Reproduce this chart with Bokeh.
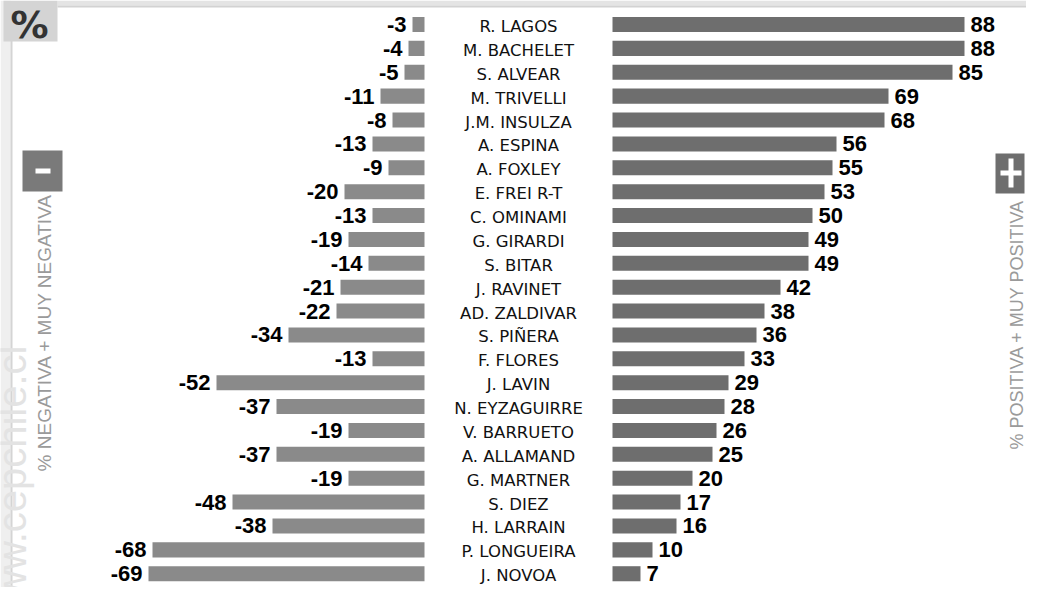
import math
from bokeh.plotting import figure
from bokeh.models import ColumnDataSource, Range1d
from bokeh.core.properties import value
from bokeh.embed import file_html
from bokeh.resources import INLINE

names = ["R. LAGOS", "M. BACHELET", "S. ALVEAR", "M. TRIVELLI", "J.M. INSULZA",
         "A. ESPINA", "A. FOXLEY", "E. FREI R-T", "C. OMINAMI", "G. GIRARDI",
         "S. BITAR", "J. RAVINET", "AD. ZALDIVAR", "S. PIÑERA", "F. FLORES",
         "J. LAVIN", "N. EYZAGUIRRE", "V. BARRUETO", "A. ALLAMAND", "G. MARTNER",
         "S. DIEZ", "H. LARRAIN", "P. LONGUEIRA", "J. NOVOA"]
negative = [-3, -4, -5, -11, -8, -13, -9, -20, -13, -19, -14, -21, -22, -34, -13,
            -52, -37, -19, -37, -19, -48, -38, -68, -69]
positive = [88, 88, 85, 69, 68, 56, 55, 53, 50, 49, 49, 42, 38, 36, 33, 29, 28,
            26, 25, 20, 17, 16, 10, 7]

W, H = 1026, 587
CX, UX = 518.0, 4.0          # pixel of x=0, pixels per unit
CY, UY = 24.0, 23.88         # pixel of first row, pixels per row
GAP = 23.5                   # half width of the name column (units)


def X(px):
    return (px - CX) / UX


def Y(py):
    return (py - CY) / UY


p = figure(width=W, height=H, output_backend="svg", toolbar_location=None,
           x_range=Range1d(X(0), X(W)), y_range=Range1d(Y(H), Y(0)),
           x_axis_location=None, y_axis_location=None, min_border=0,
           outline_line_color=None, background_fill_color="white")
p.xgrid.visible = False
p.ygrid.visible = False

rows = list(range(len(names)))
src = ColumnDataSource(dict(
    y=rows, name=names,
    nleft=[-GAP + v for v in negative], nright=[-GAP] * len(rows),
    pleft=[GAP] * len(rows), pright=[GAP + v for v in positive],
    nlab=[str(v) for v in negative], plab=[str(v) for v in positive],
    zero=[0] * len(rows),
))

# frame decorations: top strip, left band and line, faint watermark
p.quad(left=X(57), right=X(W), top=Y(0), bottom=Y(5), fill_color="#e4e4e4", line_color=None)
p.quad(left=X(57), right=X(W), top=Y(5), bottom=Y(7), fill_color="#d2d2d2", line_color=None)
p.quad(left=X(0), right=X(10), top=Y(0), bottom=Y(H), fill_color="#efefef", line_color=None)
p.quad(left=X(10), right=X(12), top=Y(40), bottom=Y(H), fill_color="#d4d4d4", line_color=None)
p.text(x=[X(11)], y=[Y(345)], text=["www.cepchile.cl"], angle=math.pi / 2,
       text_align="right", text_baseline="alphabetic", text_color="#e3e3e3",
       text_font=value("Liberation Sans"), text_font_size="40px")

# bars
p.hbar(y="y", left="nleft", right="nright", height=0.63, source=src,
       fill_color="#8a8a8a", line_color=None)
p.hbar(y="y", left="pleft", right="pright", height=0.63, source=src,
       fill_color="#6e6e6e", line_color=None)

# names
p.text(x="zero", y="y", text="name", source=src, text_align="center",
       text_baseline="middle", y_offset=2, text_color="#111111",
       text_font=value("DejaVu Sans"), text_font_size="16.5px")

# value labels
p.text(x="nleft", y="y", text="nlab", source=src, text_align="right",
       text_baseline="middle", x_offset=-6, y_offset=0, text_color="#000000",
       text_font=value("Liberation Sans"), text_font_style="bold", text_font_size="22px")
p.text(x="pright", y="y", text="plab", source=src, text_align="left",
       text_baseline="middle", x_offset=6, y_offset=0, text_color="#000000",
       text_font=value("Liberation Sans"), text_font_style="bold", text_font_size="22px")

# "%" box
p.quad(left=X(3), right=X(57), top=Y(0), bottom=Y(41), fill_color="#d4d4d4", line_color=None)
p.text(x=[X(29)], y=[Y(24)], text=["%"], text_align="center", text_baseline="middle",
       text_color="#333333", text_font=value("DejaVu Sans"), text_font_style="bold",
       text_font_size="38px")

# "-" box
p.quad(left=X(22), right=X(62), top=Y(150), bottom=Y(191), fill_color="#7a7a7a", line_color=None)
p.quad(left=X(35), right=X(50), top=Y(168), bottom=Y(173), fill_color="white", line_color=None)
# "+" box
p.quad(left=X(995), right=X(1024), top=Y(153), bottom=Y(193), fill_color="#6e6e6e", line_color=None)
p.quad(left=X(1000), right=X(1021), top=Y(170), bottom=Y(175), fill_color="white", line_color=None)
p.quad(left=X(1008), right=X(1013), top=Y(158), bottom=Y(187), fill_color="white", line_color=None)

# side labels
p.text(x=[X(44)], y=[Y(332)], text=["% NEGATIVA + MUY NEGATIVA"], angle=math.pi / 2,
       text_align="center", text_baseline="middle", text_color="#9a9a9a",
       text_font=value("Liberation Sans"), text_font_size="19px")
p.text(x=[X(1016)], y=[Y(324)], text=["% POSITIVA + MUY POSITIVA"], angle=math.pi / 2,
       text_align="center", text_baseline="middle", text_color="#9a9a9a",
       text_font=value("Liberation Sans"), text_font_size="18px")

open("out.html", "w").write(file_html(p, INLINE))
